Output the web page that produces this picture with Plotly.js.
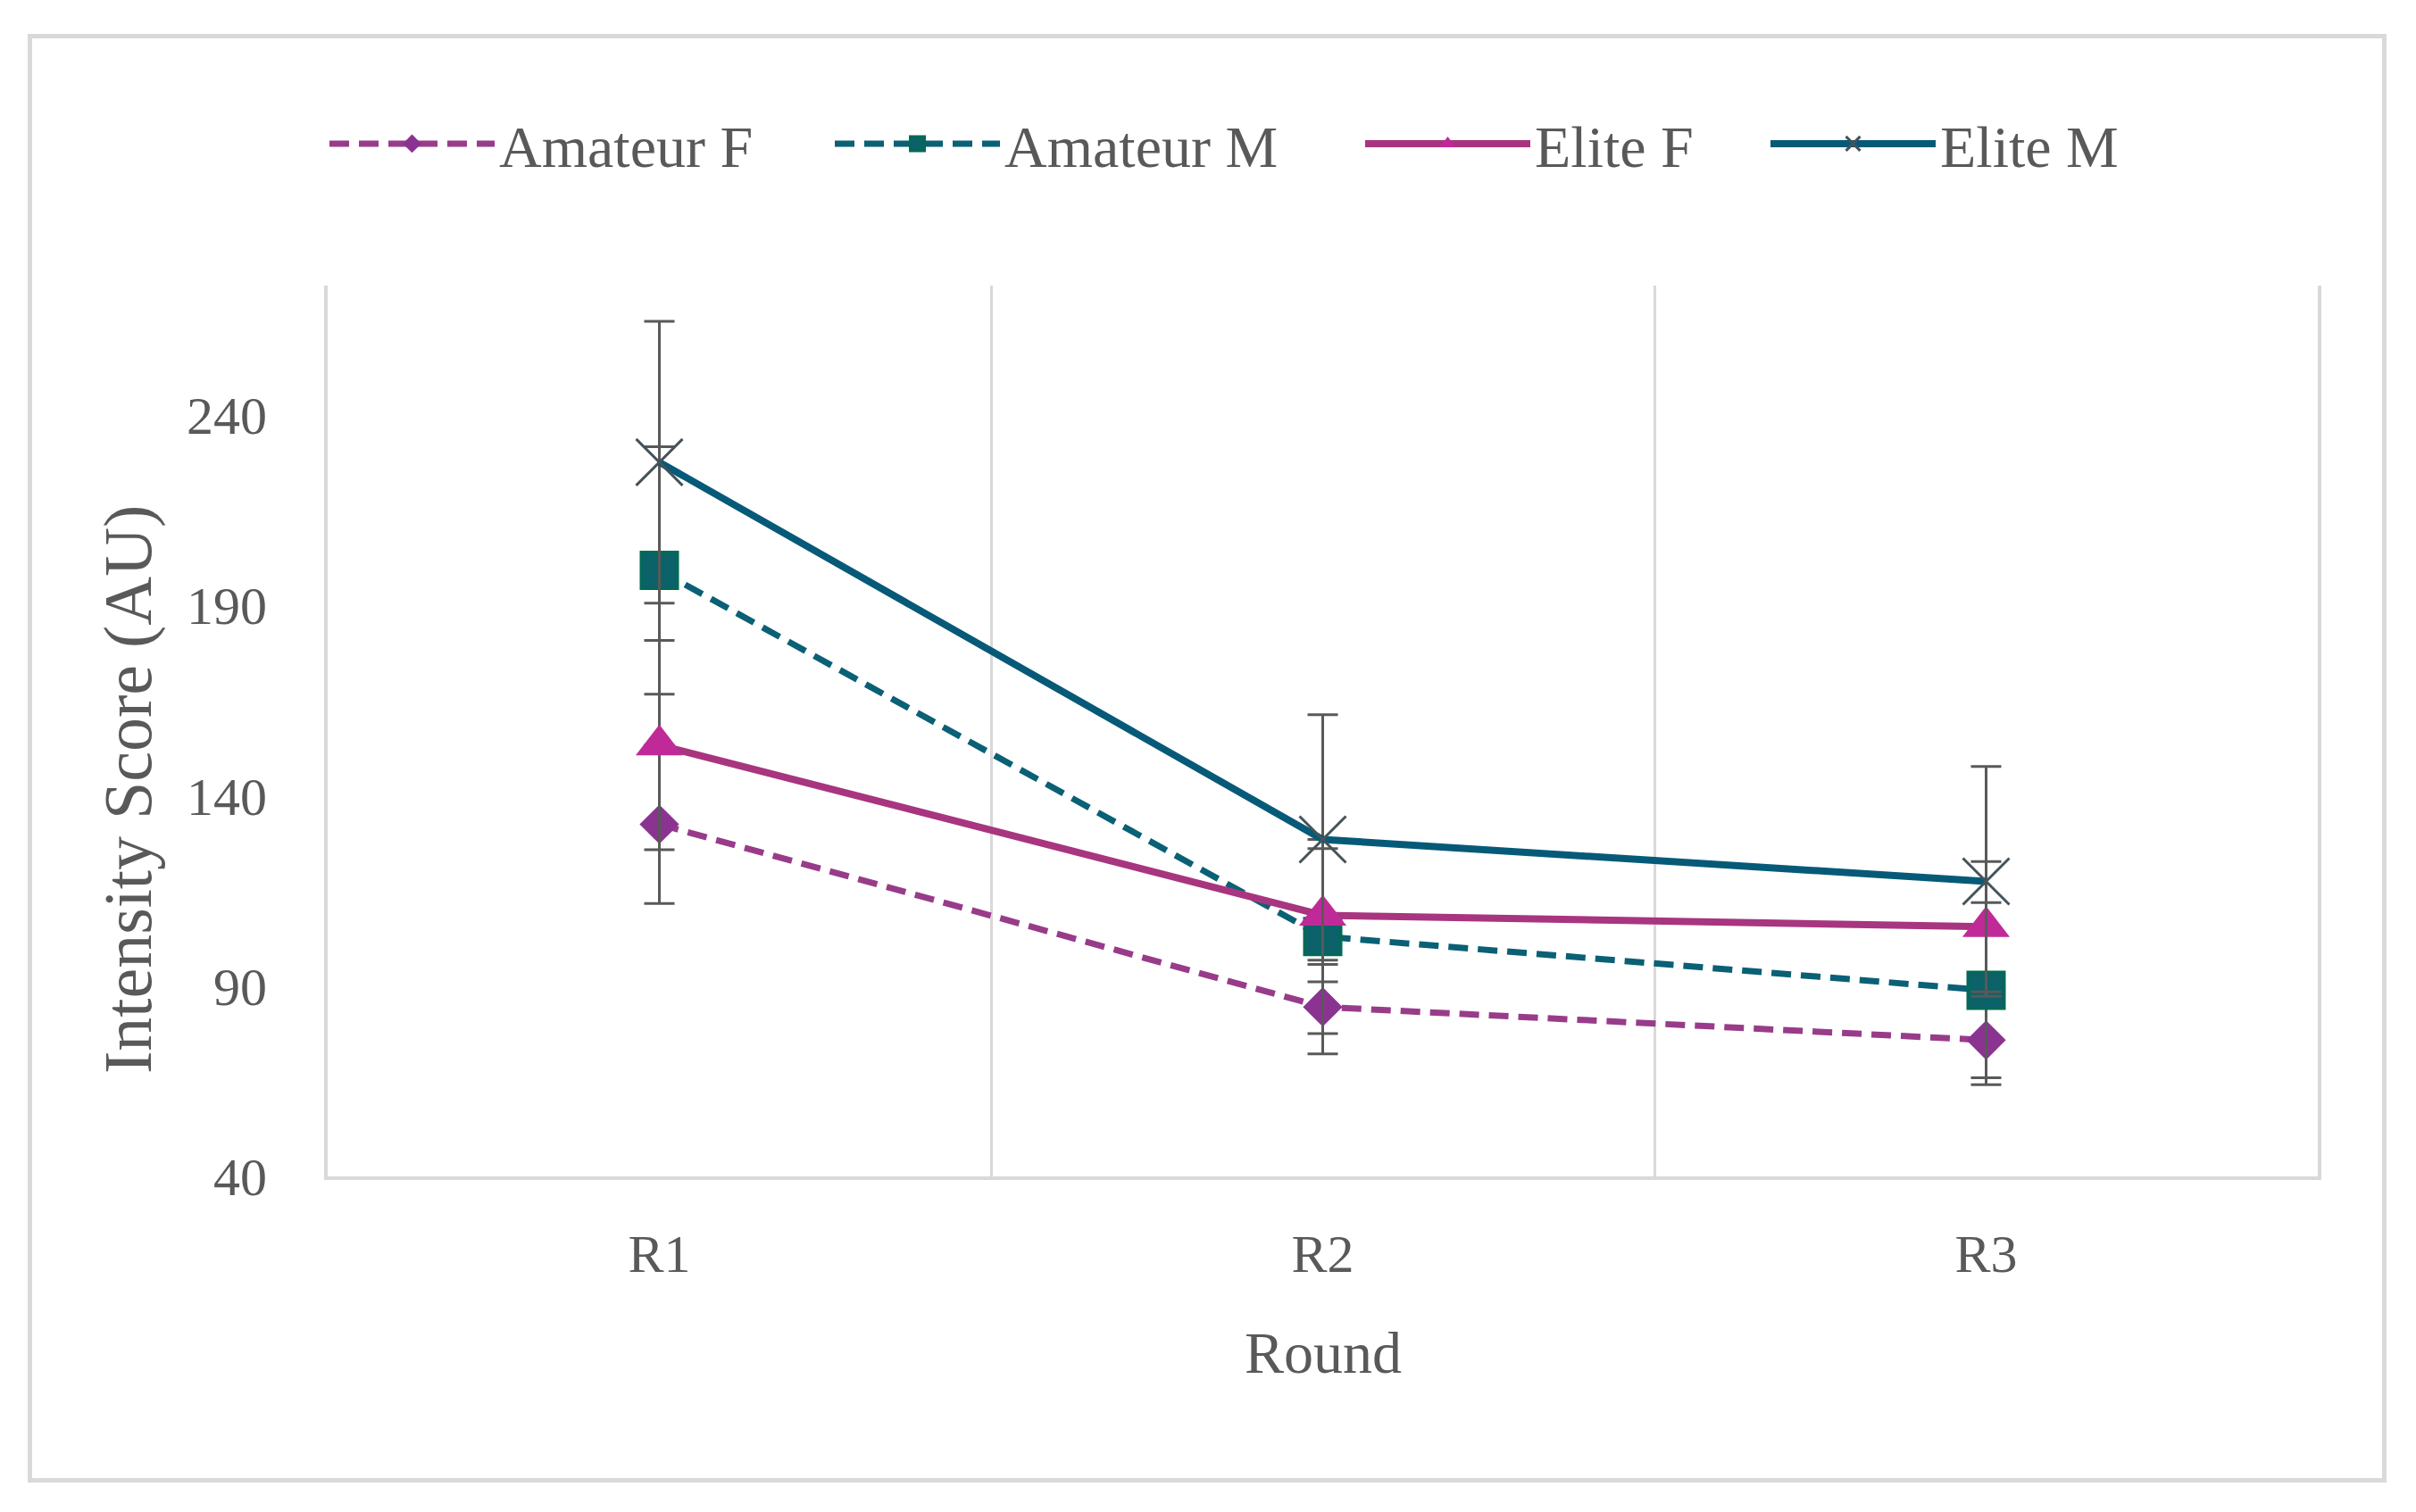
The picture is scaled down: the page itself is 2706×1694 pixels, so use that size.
<!DOCTYPE html>
<html>
<head>
<meta charset="utf-8">
<script src="https://cdn.plot.ly/plotly-3.0.1.min.js"></script>
<style>
  html, body { margin: 0; padding: 0; background: #ffffff; }
  #chart { width: 2706px; height: 1694px; }
  #frame { position: absolute; left: 31px; top: 38px; width: 2642px; height: 1623px;
           border: 5px solid #D9D9D9; box-sizing: border-box; pointer-events: none; }
</style>
</head>
<body>
<div id="chart"></div>
<div id="frame"></div>
<script>
// ---- data ----
const rounds = ["R1", "R2", "R3"];
const seriesNames = ["Amateur F", "Amateur M", "Elite F", "Elite M"];
const amateurF = [132.5, 84.5, 75.8];
const amateurFErr = [20.8, 12.3, 11.7];
const amateurM = [199.2, 103.0, 88.9];
const amateurMErr = [32.5, 25.5, 23.0];
const eliteF = [153.3, 108.6, 105.6];
const eliteFErr = [27.5, 17.5, 17.1];
const eliteM = [227.6, 128.5, 117.5];
const eliteMErr = [37.0, 32.8, 30.2];
const yTicks = [40, 90, 140, 190, 240];
const xTitle = "Round";
const yTitle = "Intensity Score (AU)";

// ---- layout geometry (pixels) ----
const W = 2706, H = 1694;
const L = 367, R = 2596, T = 320, B = 1318;
const pw = R - L, ph = B - T;
const px = x => (x - L) / pw;
const py = y => (B - y) / ph;

const FONT = "Liberation Serif, Times New Roman, serif";
const TXT = "#595959";

function errBar(arr) {
  return { type: "data", array: arr, visible: true, color: "#595959", thickness: 3, width: 17 };
}

const traces = [
  {
    x: rounds, y: amateurF, name: seriesNames[0], type: "scatter", mode: "lines+markers",
    line: { color: "#983C8A", width: 7, dash: "22px,11px" },
    marker: { symbol: "diamond", size: 34, color: "#8A3391" },
    error_y: errBar(amateurFErr), legend: "legend"
  },
  {
    x: rounds, y: amateurM, name: seriesNames[1], type: "scatter", mode: "lines+markers",
    line: { color: "#0A6075", width: 7, dash: "22px,11px" },
    marker: { symbol: "square", size: 41, color: "#0B6268", line: { color: "#006A55", width: 3 } },
    error_y: errBar(amateurMErr), legend: "legend2"
  },
  {
    x: rounds, y: eliteF, name: seriesNames[2], type: "scatter", mode: "lines+markers",
    line: { color: "#A8357F", width: 8 },
    marker: { symbol: "triangle-up", size: 46, color: "#C02A98" },
    error_y: errBar(eliteFErr), legend: "legend3"
  },
  {
    x: rounds, y: eliteM, name: seriesNames[3], type: "scatter", mode: "lines+markers",
    line: { color: "#065A78", width: 8 },
    marker: { symbol: "x-thin", size: 52, color: "#45525A", line: { color: "#45525A", width: 3 } },
    error_y: errBar(eliteMErr), legend: "legend4"
  }
];

function legendAt(xpix) {
  return {
    orientation: "h", x: px(xpix), y: py(161), xanchor: "left", yanchor: "middle",
    font: { family: FONT, size: 66, color: TXT }, bgcolor: "rgba(0,0,0,0)",
    itemwidth: 185, borderwidth: 0, itemclick: false, itemdoubleclick: false
  };
}

const layout = {
  width: W, height: H,
  margin: { l: L, r: W - R, t: T, b: H - B, pad: 0 },
  paper_bgcolor: "#ffffff", plot_bgcolor: "#ffffff",
  showlegend: true,
  hovermode: false,
  font: { family: FONT, color: TXT },
  legend: legendAt(364),
  legend2: legendAt(930),
  legend3: legendAt(1524),
  legend4: legendAt(1978),
  xaxis: {
    type: "category", range: [-0.5, 2.5], tickson: "boundaries",
    showgrid: true, gridcolor: "#D9D9D9", gridwidth: 3,
    showline: true, linecolor: "#D9D9D9", linewidth: 4,
    ticks: "", ticklabelstandoff: 31, zeroline: false,
    tickfont: { family: FONT, size: 60, color: TXT }, fixedrange: true
  },
  yaxis: {
    range: [40, 274], tickvals: yTicks, ticktext: yTicks.map(String),
    showgrid: false, zeroline: false,
    showline: true, mirror: true, linecolor: "#D9D9D9", linewidth: 4,
    ticks: "", ticklabelstandoff: 52,
    tickfont: { family: FONT, size: 60, color: TXT }, fixedrange: true
  },
  annotations: [
    { text: yTitle, xref: "paper", yref: "paper", x: px(143), y: py(885),
      xanchor: "center", yanchor: "middle", textangle: -90, showarrow: false,
      font: { family: FONT, size: 76, color: TXT } },
    { text: xTitle, xref: "paper", yref: "paper", x: px(1482), y: py(1515),
      xanchor: "center", yanchor: "middle", showarrow: false,
      font: { family: FONT, size: 66, color: TXT } }
  ]
};

Plotly.newPlot("chart", traces, layout, { displayModeBar: false, staticPlot: true });
</script>
</body>
</html>
